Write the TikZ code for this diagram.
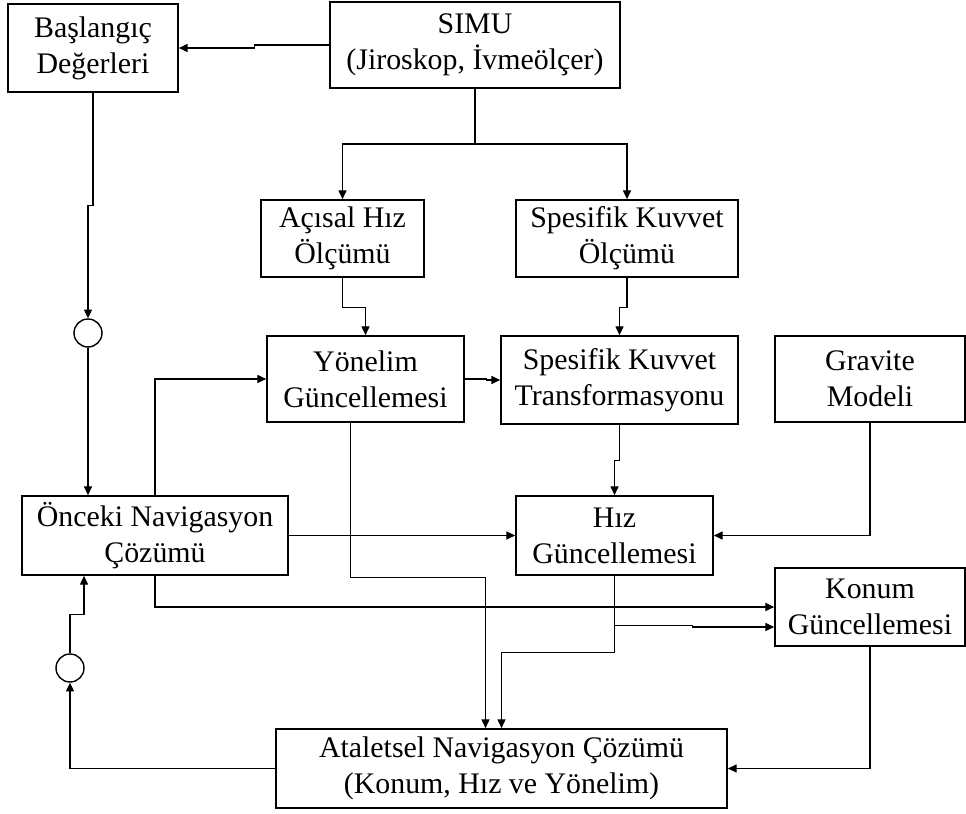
\documentclass[tikz,border=0pt]{standalone}
\usepackage{fontspec}
\setmainfont{Liberation Serif}
\usepackage{tikz}
\usetikzlibrary{arrows.meta}
\usetikzlibrary{calc}

\begin{document}
\begin{tikzpicture}[x=0.02cm,y=-0.02cm,->,>={Triangle[length=5pt,width=4.6pt]},
  line width=0.6pt,
  block/.style={rectangle,draw,line width=1pt,inner sep=0pt,align=center,
    font=\fontsize{17}{20.6}\selectfont},
  junction/.style={circle,draw,line width=0.8pt,inner sep=0pt,minimum size=0.56cm}]

\useasboundingbox (0,0) rectangle (966,814);

\node[block,minimum width=3.4cm,minimum height=1.76cm] (basl) at (93,48) {Başlangıç\\Değerleri};
\node[block,minimum width=5.8cm,minimum height=1.72cm] (simu) at (475,45) {SIMU\\(Jiroskop, İvmeölçer)};
\node[block,minimum width=3.26cm,minimum height=1.54cm] (acisal) at (342.5,238.5) {Açısal Hız\\Ölçümü};
\node[block,minimum width=4.44cm,minimum height=1.54cm] (spesolc) at (627,238.5) {Spesifik Kuvvet\\Ölçümü};
\node[block,minimum width=3.94cm,minimum height=1.72cm] (yonelim) at (365.5,379) {Yönelim\\Güncellemesi};
\node[block,minimum width=4.74cm,minimum height=1.76cm] (skt) at (619.5,380) {Spesifik Kuvvet\\Transformasyonu};
\node[block,minimum width=3.8cm,minimum height=1.72cm] (gravite) at (870,379) {Gravite\\Modeli};
\node[block,minimum width=5.32cm,minimum height=1.58cm] (onceki) at (155,535.5) {Önceki Navigasyon\\Çözümü};
\node[block,minimum width=3.94cm,minimum height=1.58cm] (hiz) at (614.5,535.5) {Hız\\Güncellemesi};
\node[block,minimum width=3.8cm,minimum height=1.56cm] (konum) at (870,607) {Konum\\Güncellemesi};
\node[block,minimum width=9.02cm,minimum height=1.58cm] (atalet) at (501.5,768.5) {Ataletsel Navigasyon Çözümü\\(Konum, Hız ve Yönelim)};
\node[junction] (c1) at (88,333) {};
\node[junction] (c2) at (70,668) {};

\coordinate (split) at (simu.south |- 0,144);
\coordinate (a1) at ([xshift=-0.32cm]atalet.north);
\coordinate (hb) at ([yshift=-1cm]hiz.south);

\draw (simu.west) -- ++(-75,0) |- (basl.east);
\draw[-] (simu.south) -- (split);
\draw (split) -| (acisal.north);
\draw (split) -| (spesolc.north);
\draw (basl.south) -- ++(0,113) -| (c1.north);
\draw (c1.south) -- (c1 |- onceki.north);
\draw (acisal.south) -- ++(0,30) -| (yonelim.north);
\draw (spesolc.south) -- ++(0,30) -| (skt.north);
\draw (yonelim.east) -- ++(22,0) |- (skt.west);
\draw (onceki.north) |- (yonelim.west);
\draw (onceki.east) -- (hiz.west);
\draw ([xshift=-0.3cm]yonelim.south) -- ++(0,155) -| (a1);
\draw (onceki.south) |- (konum.west);
\draw (hiz.south) -- ++(0,77) -| (atalet.north);
\draw (hb) -- ++(78,0) |- ([yshift=-0.4cm]konum.west);
\draw (skt.south) -- ++(0,36) -| (hiz.north);
\draw (gravite.south) |- (hiz.east);
\draw (konum.south) |- (atalet.east);
\draw (atalet.west) -| (c2.south);
\draw (c2.north) -- ++(0,-39) -| ([xshift=-1.42cm]onceki.south);

\end{tikzpicture}
\end{document}
